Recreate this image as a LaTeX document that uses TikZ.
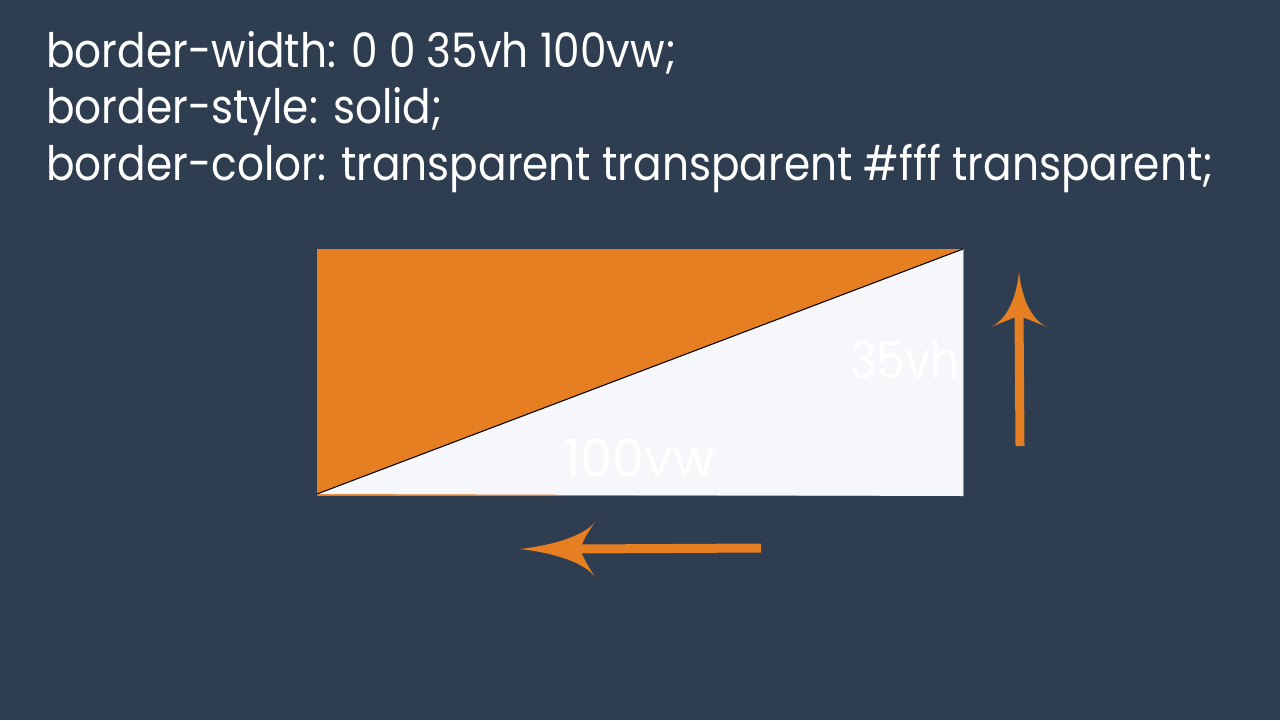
\documentclass[tikz,border=0pt]{standalone}
\usepackage{fontspec}
\setmainfont{Poppins}[FakeStretch=0.89]
\newfontfamily\dimfont{Poppins}
\usetikzlibrary{positioning}
\definecolor{slate}{HTML}{2E3D50}
\definecolor{carrot}{HTML}{E67E22}
\definecolor{paper}{HTML}{F5F7FB}
\tikzset{
  code/.style={anchor=base west, text=white, inner sep=0pt, font=\fontsize{27}{32}\selectfont},
  dim/.style={text=white, inner sep=0pt, font=\fontsize{29}{34}\selectfont},
  shaft/.style={draw=carrot, line width=9*0.02cm},
  head/.style={fill=carrot}
}
\begin{document}
\begin{tikzpicture}[x=0.02cm, y=-0.02cm]
  % background
  \fill[slate] (0,0) rectangle (1280,720);
  \useasboundingbox (0,0) rectangle (1280,720);

  % css text
  \node[code] (width) at (46,67) {border-width: 0 0 35vh 100vw;};
  \node[code] (style) at (46,123) {border-style: solid;};
  \node[code] (color) at (46,180) {border-color: transparent transparent \#fff transparent;};

  % the box and its bottom border
  \coordinate (tl) at (317,249);
  \coordinate (tr) at (963,249);
  \coordinate (br) at (963,496);
  \coordinate (bl) at (317,494);
  \fill[carrot] (tl) rectangle (br);
  \fill[paper] (bl) -- (tr) -- (br) -- cycle;
  \draw[black, line width=0.6pt] (bl) -- (tr);
  \draw[carrot, line width=0.5pt] (tr) -- (br);

  \node[dim, anchor=base east] (vh) at (960,378) {35vh};
  \node[dim, font=\dimfont\fontsize{29}{34}\selectfont, anchor=base] (vw) at (640,476) {100vw};

  % up arrow
  \coordinate (upfoot) at (1020,446);
  \coordinate (upneck) at (1019,312);
  \draw[shaft] (upfoot) -- (upneck);
  \fill[head] (1019,272) .. controls (1022,300) and (1032,320) .. (1047,327)
    .. controls (1035,322) and (1025,318) .. (1019,316)
    .. controls (1013,318) and (1003,322) .. (991,327)
    .. controls (1006,320) and (1016,300) .. (1019,272) -- cycle;

  % left arrow
  \coordinate (leftfoot) at (761,548);
  \coordinate (leftneck) at (578,549);
  \draw[shaft] (leftfoot) -- (leftneck);
  \fill[head] (520,549) .. controls (555,545) and (585,535) .. (595,522)
    .. controls (588,532) and (583,541) .. (580,549)
    .. controls (583,557) and (588,566) .. (595,577)
    .. controls (585,563) and (555,553) .. (520,549) -- cycle;
\end{tikzpicture}
\end{document}
